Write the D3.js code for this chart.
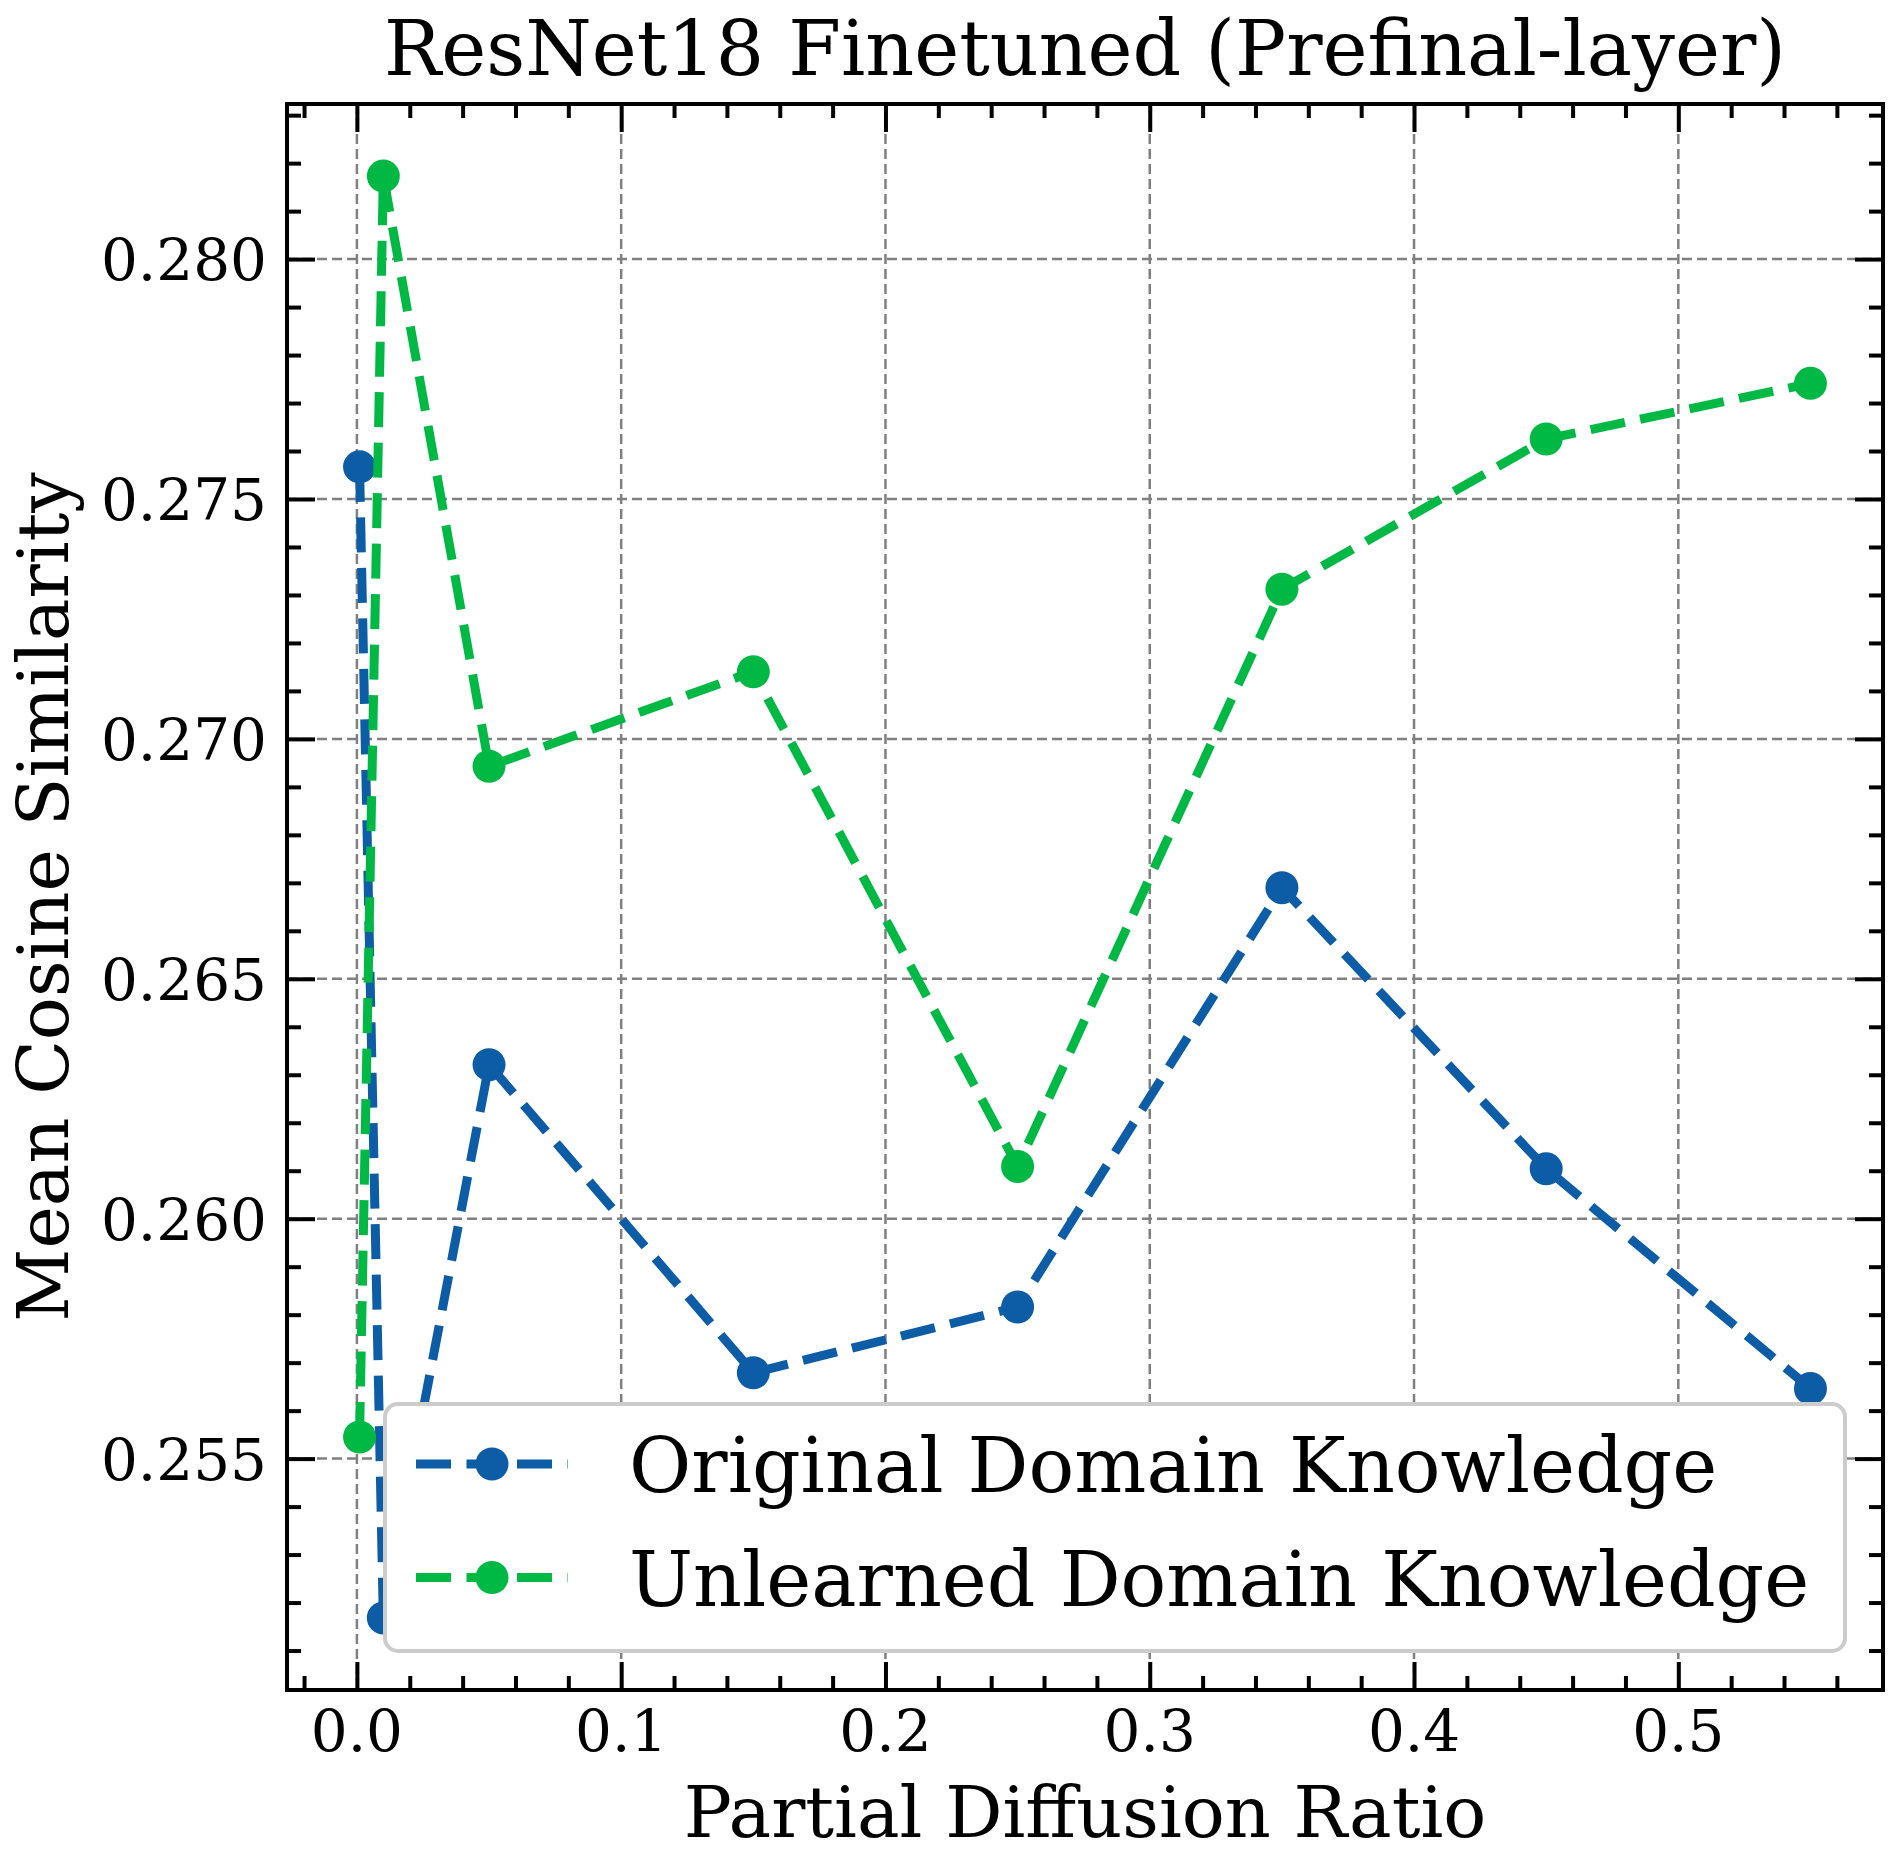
<!DOCTYPE html>
<html>
<head>
<meta charset="utf-8">
<script src="https://cdn.jsdelivr.net/npm/d3@7"></script>
<style>
	body { margin: 0; background: white; }
	text { font-family: "DejaVu Serif", serif; fill: black; }
</style>
</head>
<body>
<svg id="chart" width="1901" height="1868"></svg>
<script>

// data
var ratios = [0.001, 0.01, 0.05, 0.15, 0.25, 0.35, 0.45, 0.55];
var original = [0.27567, 0.25168, 0.26321, 0.25679, 0.25816, 0.2669, 0.26104, 0.25646];
var unlearned = [0.25545, 0.28173, 0.26943, 0.2714, 0.26109, 0.27312, 0.27625, 0.27741];
var seriesNames = ["Original Domain Knowledge", "Unlearned Domain Knowledge"];
var seriesColours = ["#0C5DA5", "#00B945"];
var xTicks = [0.0, 0.1, 0.2, 0.3, 0.4, 0.5];
var yTicks = [0.255, 0.260, 0.265, 0.270, 0.275, 0.280];

var plotLeft = 287, plotRight = 1883, plotTop = 104, plotBottom = 1690;

var svg = d3.select("#chart");

// matplotlib style 5% margins around the data
var xMin = d3.min(ratios), xMax = d3.max(ratios);
var xPad = (xMax - xMin) * 0.05;
var allY = original.concat(unlearned);
var yMin = d3.min(allY), yMax = d3.max(allY);
var yPad = (yMax - yMin) * 0.05;

var x = d3.scaleLinear().domain([xMin - xPad, xMax + xPad]).range([plotLeft, plotRight]);
var y = d3.scaleLinear().domain([yMin - yPad, yMax + yPad]).range([plotBottom, plotTop]);

var xMinor = d3.range(-0.02, 0.58, 0.02).filter(function(d) { return Math.abs(d * 10 - Math.round(d * 10)) > 1e-6; });
var yMinor = d3.range(0.251, 0.2835, 0.001).filter(function(d) { return Math.abs(d * 200 - Math.round(d * 200)) > 1e-6; });

// grid
var grid = svg.append("g").attr("class", "grid");
grid.selectAll(".vgrid")
	.data(xTicks)
	.enter().append("line")
	.attr("x1", function(d) { return x(d); })
	.attr("x2", function(d) { return x(d); })
	.attr("y1", plotTop)
	.attr("y2", plotBottom);
grid.selectAll(".hgrid")
	.data(yTicks)
	.enter().append("line")
	.attr("x1", plotLeft)
	.attr("x2", plotRight)
	.attr("y1", function(d) { return y(d); })
	.attr("y2", function(d) { return y(d); });
grid.selectAll("line")
	.style("stroke", "#808080")
	.style("stroke-width", 2.5)
	.style("stroke-dasharray", "10,5");

// axes, ticks pointing inward on all four sides
function tickAxis(axis, ticks, size) {
	return axis.tickValues(ticks).tickSize(size).tickPadding(0).tickFormat("");
}

var axisBottom = svg.append("g").attr("transform", "translate(0," + plotBottom + ")");
axisBottom.call(tickAxis(d3.axisTop(x), xMinor, 14));
axisBottom.append("g").call(tickAxis(d3.axisTop(x), xTicks, 28));
var axisTop = svg.append("g").attr("transform", "translate(0," + plotTop + ")");
axisTop.call(tickAxis(d3.axisBottom(x), xMinor, 14));
axisTop.append("g").call(tickAxis(d3.axisBottom(x), xTicks, 28));
var axisLeft = svg.append("g").attr("transform", "translate(" + plotLeft + ",0)");
axisLeft.call(tickAxis(d3.axisRight(y), yMinor, 14));
axisLeft.append("g").call(tickAxis(d3.axisRight(y), yTicks, 28));
var axisRight = svg.append("g").attr("transform", "translate(" + plotRight + ",0)");
axisRight.call(tickAxis(d3.axisLeft(y), yMinor, 14));
axisRight.append("g").call(tickAxis(d3.axisLeft(y), yTicks, 28));

svg.selectAll(".domain").remove();
svg.selectAll(".tick line").style("stroke", "black").style("stroke-width", 4);
svg.selectAll(".tick text").remove();

// tick labels
svg.selectAll(".xlabel")
	.data(xTicks)
	.enter().append("text")
	.attr("x", function(d) { return x(d); })
	.attr("y", 1751)
	.attr("text-anchor", "middle")
	.style("font-size", "58px")
	.text(d3.format(".1f"));

svg.selectAll(".ylabel")
	.data(yTicks)
	.enter().append("text")
	.attr("x", 267)
	.attr("y", function(d) { return y(d) + 21; })
	.attr("text-anchor", "end")
	.style("font-size", "58px")
	.text(d3.format(".3f"));

// lines and markers
var line = d3.line()
	.x(function(d) { return x(d[0]); })
	.y(function(d) { return y(d[1]); });

var series = [original, unlearned].map(function(vals, i) {
	return { name: seriesNames[i], colour: seriesColours[i], points: ratios.map(function(r, j) { return [r, vals[j]]; }) };
});

var plot = svg.append("g");
series.forEach(function(s) {
	plot.append("path")
		.attr("d", line(s.points))
		.style("fill", "none")
		.style("stroke", s.colour)
		.style("stroke-width", 9)
		.style("stroke-dasharray", "35,15.5");
	plot.selectAll(null)
		.data(s.points)
		.enter().append("circle")
		.attr("cx", function(d) { return x(d[0]); })
		.attr("cy", function(d) { return y(d[1]); })
		.attr("r", 16.5)
		.style("fill", s.colour);
});

// frame
svg.append("rect")
	.attr("x", plotLeft)
	.attr("y", plotTop)
	.attr("width", plotRight - plotLeft)
	.attr("height", plotBottom - plotTop)
	.style("fill", "none")
	.style("stroke", "black")
	.style("stroke-width", 4);

// legend
var legend = svg.append("g");
legend.append("rect")
	.attr("x", 385)
	.attr("y", 1404)
	.attr("width", 1460)
	.attr("height", 247)
	.attr("rx", 13)
	.style("fill", "white")
	.style("stroke", "#cccccc")
	.style("stroke-width", 4);

var rows = legend.selectAll(".entry")
	.data(series)
	.enter().append("g")
	.attr("transform", function(d, i) { return "translate(0," + (1464 + i * 113.5) + ")"; });
rows.append("line")
	.attr("x1", 416)
	.attr("x2", 568)
	.style("stroke", function(d) { return d.colour; })
	.style("stroke-width", 9)
	.style("stroke-dasharray", "35,15.5");
rows.append("circle")
	.attr("cx", 492)
	.attr("r", 16.5)
	.style("fill", function(d) { return d.colour; });
rows.append("text")
	.attr("x", 629)
	.attr("y", 28)
	.style("font-size", "76px")
	.text(function(d) { return d.name; });

// titles
svg.append("text")
	.attr("x", (plotLeft + plotRight) / 2)
	.attr("y", 75)
	.attr("text-anchor", "middle")
	.style("font-size", "76px")
	.text("ResNet18 Finetuned (Prefinal-layer)");

svg.append("text")
	.attr("x", (plotLeft + plotRight) / 2)
	.attr("y", 1837)
	.attr("text-anchor", "middle")
	.style("font-size", "71.5px")
	.text("Partial Diffusion Ratio");

svg.append("text")
	.attr("transform", "translate(68," + ((plotTop + plotBottom) / 2) + ") rotate(-90)")
	.attr("text-anchor", "middle")
	.style("font-size", "71.5px")
	.text("Mean Cosine Similarity");

</script>
</body>
</html>
